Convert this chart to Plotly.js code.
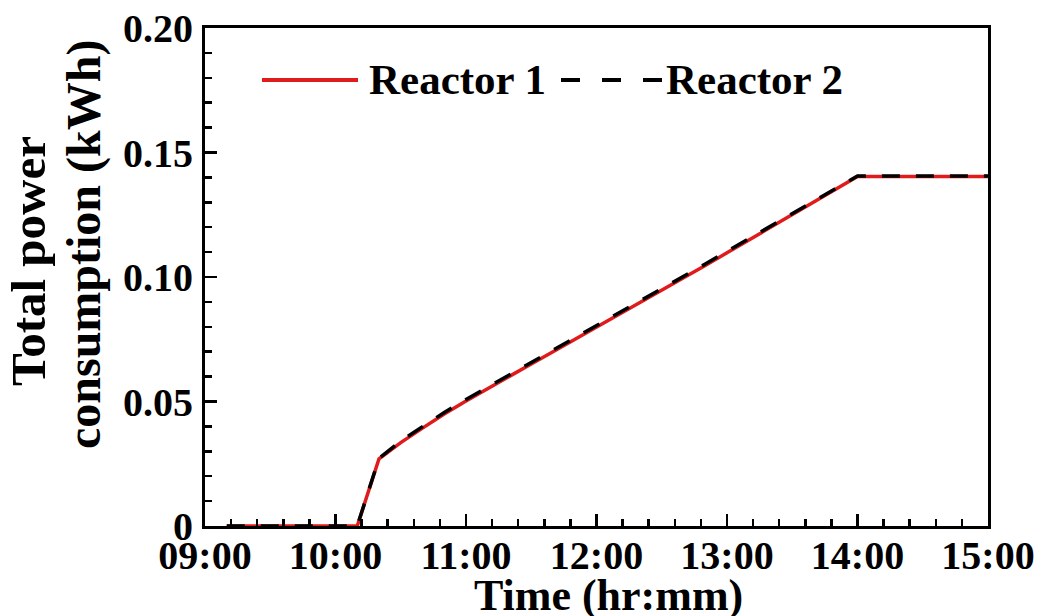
<!DOCTYPE html>
<html>
<head>
<meta charset="utf-8">
<script src="https://cdn.plot.ly/plotly-3.0.1.min.js"></script>
<style>
  html, body { margin: 0; padding: 0; background: #ffffff; }
  #chart { width: 1042px; height: 616px; }
</style>
</head>
<body>
<div id="chart"></div>
<script>
// Sampling times (every 10 minutes)
const times = [
  "09:10","09:20","09:30","09:40","09:50","10:00","10:10",
  "10:20","10:30","10:40","10:50","11:00","11:10","11:20","11:30",
  "11:40","11:50","12:00","12:10","12:20","12:30","12:40","12:50",
  "13:00","13:10","13:20","13:30","13:40","13:50","14:00",
  "14:10","14:20","14:30","14:40","14:50","15:00"
];

// Cumulative energy use, kWh
const reactor1 = [
  0, 0, 0, 0, 0, 0, 0,
  0.0270, 0.0335, 0.0393, 0.0450, 0.0502, 0.0553, 0.0602, 0.0651,
  0.0700, 0.0749, 0.0798, 0.0847, 0.0896, 0.0945, 0.0995, 0.1046,
  0.1097, 0.1148, 0.1199, 0.1250, 0.1301, 0.1352, 0.1404,
  0.1404, 0.1404, 0.1404, 0.1404, 0.1404, 0.1404
];
const reactor2 = [
  0, 0, 0, 0, 0, 0, 0,
  0.0272, 0.0341, 0.0399, 0.0456, 0.0508, 0.0559, 0.0608, 0.0657,
  0.0706, 0.0755, 0.0804, 0.0853, 0.0902, 0.0951, 0.1001, 0.1052,
  0.1103, 0.1154, 0.1205, 0.1256, 0.1306, 0.1356, 0.1406,
  0.1406, 0.1406, 0.1406, 0.1406, 0.1406, 0.1406
];

// Axis ticks
const hourTicks = [9, 10, 11, 12, 13, 14, 15];
const hourLabels = ["09:00","10:00","11:00","12:00","13:00","14:00","15:00"];
const energyTicks = [0, 0.05, 0.10, 0.15, 0.20];
const energyLabels = ["0", "0.05", "0.10", "0.15", "0.20"];

const seriesNames = ["Reactor 1", "Reactor 2"];
const red = "#e01b1b";

// "HH:MM" -> decimal hours
const toHours = t => { const [h, m] = t.split(":").map(Number); return h + m / 60; };
const xh = times.map(toHours);

const serif = "Liberation Serif, Times New Roman, serif";

const traces = [
  { x: xh, y: reactor1, type: "scatter", mode: "lines", name: seriesNames[0],
    line: { color: red, width: 3.5 } },
  { x: xh, y: reactor2, type: "scatter", mode: "lines", name: seriesNames[1],
    line: { color: "#000000", width: 3.5, dash: "18px,16px" } }
];

// Plot area spans 205..988 px horizontally, 28..526 px vertically
const L = 205, R = 988, T = 28, B = 526;
const px = v => (v - L) / (R - L);
const py = v => (B - v) / (B - T);

const legendY = py(80);

const layout = {
  width: 1042, height: 616,
  margin: { l: L, r: 1042 - R, t: T, b: 616 - B },
  paper_bgcolor: "#ffffff", plot_bgcolor: "#ffffff",
  showlegend: false,
  font: { family: serif, color: "#000000", weight: "bold" },
  xaxis: {
    range: [9, 15], tickmode: "array", tickvals: hourTicks, ticktext: hourLabels,
    ticks: "inside", ticklen: 12, tickwidth: 2.5, tickcolor: "#000",
    showline: true, linewidth: 3, linecolor: "#000", mirror: true,
    showgrid: false, zeroline: false,
    tickfont: { family: serif, size: 40, color: "#000", weight: "bold" },
    ticklabelstandoff: -8,
    minor: { ticks: "inside", ticklen: 7, tickwidth: 2.5, tickcolor: "#000",
             tick0: 9, dtick: 0.2, showgrid: false }
  },
  yaxis: {
    range: [0, 0.2], tickmode: "array", tickvals: energyTicks, ticktext: energyLabels,
    ticks: "inside", ticklen: 12, tickwidth: 2.5, tickcolor: "#000",
    showline: true, linewidth: 3, linecolor: "#000", mirror: true,
    showgrid: false, zeroline: false,
    tickfont: { family: serif, size: 40, color: "#000", weight: "bold" },
    ticklabelstandoff: 1,
    minor: { ticks: "inside", ticklen: 7, tickwidth: 2.5, tickcolor: "#000",
             tick0: 0, dtick: 0.01, showgrid: false }
  },
  shapes: [
    { type: "line", xref: "paper", yref: "paper", x0: px(262), x1: px(358), y0: legendY, y1: legendY,
      line: { color: red, width: 4 } },
    { type: "line", xref: "paper", yref: "paper", x0: px(561), x1: px(666), y0: legendY, y1: legendY,
      line: { color: "#000", width: 4, dash: "19px,22px" } }
  ],
  annotations: [
    { text: seriesNames[0], xref: "paper", yref: "paper", x: px(367), y: legendY,
      xanchor: "left", yanchor: "middle", showarrow: false,
      font: { family: serif, size: 43, color: "#000", weight: "bold" } },
    { text: seriesNames[1], xref: "paper", yref: "paper", x: px(664), y: legendY,
      xanchor: "left", yanchor: "middle", showarrow: false,
      font: { family: serif, size: 43, color: "#000", weight: "bold" } },
    { text: "Time (hr:mm)", xref: "paper", yref: "paper", x: px(608), y: py(595),
      xanchor: "center", yanchor: "middle", showarrow: false,
      font: { family: serif, size: 44, color: "#000", weight: "bold" } },
    { text: "Total power", xref: "paper", yref: "paper", x: px(28), y: py(261),
      xanchor: "center", yanchor: "middle", textangle: -90, showarrow: false,
      font: { family: serif, size: 49, color: "#000", weight: "bold" } },
    { text: "consumption (kWh)", xref: "paper", yref: "paper", x: px(84), y: py(245),
      xanchor: "center", yanchor: "middle", textangle: -90, showarrow: false,
      font: { family: serif, size: 48, color: "#000", weight: "bold" } }
  ]
};

Plotly.newPlot("chart", traces, layout, { displayModeBar: false, staticPlot: true });
</script>
</body>
</html>
